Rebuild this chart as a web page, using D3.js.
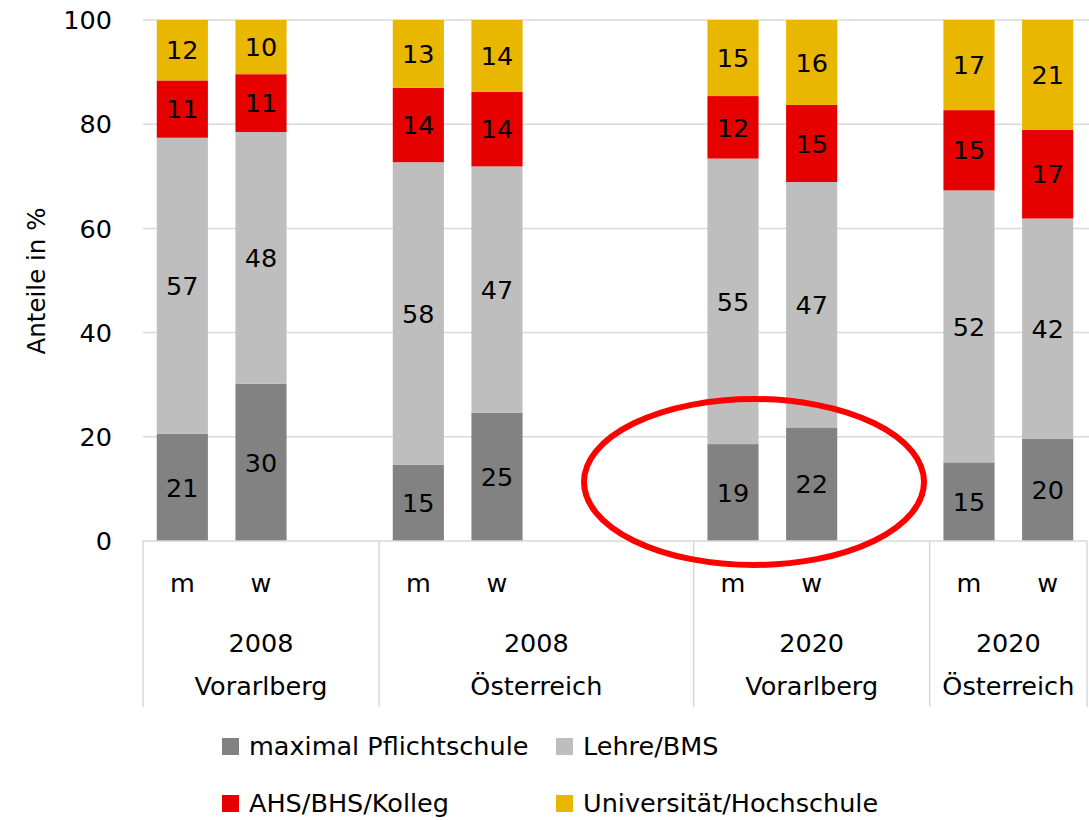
<!DOCTYPE html>
<html>
<head>
<meta charset="utf-8">
<script src="https://cdn.jsdelivr.net/npm/d3@7"></script>
<style>
  body { margin: 0; background: #fff; }
  text { font-family: "DejaVu Sans", sans-serif; fill: #000; }
</style>
</head>
<body>
<div id="chart"></div>
<script>
// slots on the x axis, empty strings are the gaps Excel left between groups
const slots = ["m", "w", "", "m", "w", "", "", "m", "w", "", "m", "w"];
const groups = [
  { year: "2008", region: "Vorarlberg", from: 0, to: 2 },
  { year: "2008", region: "Österreich", from: 3, to: 6 },
  { year: "2020", region: "Vorarlberg", from: 7, to: 9 },
  { year: "2020", region: "Österreich", from: 10, to: 11 }
];
const barSlots = [0, 1, 3, 4, 7, 8, 10, 11];

const seriesNames = ["maximal Pflichtschule", "Lehre/BMS", "AHS/BHS/Kolleg", "Universität/Hochschule"];
const pflicht = [20.6, 30.2, 14.6, 24.6, 18.6, 21.8, 15.1, 19.6];
const lehre   = [56.8, 48.3, 58.1, 47.3, 54.8, 47.1, 52.2, 42.3];
const ahs     = [11.0, 11.1, 14.3, 14.3, 12.0, 14.8, 15.4, 17.0];
const uni     = [11.6, 10.4, 13.0, 13.8, 14.6, 16.3, 17.3, 21.1];
const yTicks = [0, 20, 40, 60, 80, 100];

const colors = ["#828282", "#bebebe", "#e60000", "#e9b600"];

const width = 1089, height = 820;
const margin = { top: 20, left: 143, right: 2, bottom: 279 };
const fs = 25.5;

const svg = d3.select("#chart").append("svg")
  .attr("width", width)
  .attr("height", height);

const x = d3.scaleBand()
  .domain(d3.range(slots.length))
  .range([margin.left, width - margin.right])
  .paddingInner(0.35)
  .paddingOuter(0.175);

const y = d3.scaleLinear()
  .domain([0, 100])
  .range([height - margin.bottom, margin.top]);

// gridlines
svg.append("g")
  .selectAll("line")
  .data(yTicks.filter(d => d > 0))
  .enter().append("line")
  .attr("x1", margin.left)
  .attr("x2", width)
  .attr("y1", d => y(d))
  .attr("y2", d => y(d))
  .attr("stroke", "#d9d9d9")
  .attr("stroke-width", 1.5);

// y tick labels
svg.append("g")
  .selectAll("text")
  .data(yTicks)
  .enter().append("text")
  .attr("x", 112)
  .attr("y", d => y(d))
  .attr("dy", "0.36em")
  .attr("text-anchor", "end")
  .attr("font-size", fs)
  .text(d => d);

svg.append("text")
  .attr("transform", "translate(45,281) rotate(-90)")
  .attr("text-anchor", "middle")
  .attr("font-size", 24.5)
  .text("Anteile in %");

// stacked bars
const rows = barSlots.map((s, i) => ({
  slot: s,
  values: [pflicht[i], lehre[i], ahs[i], uni[i]]
}));

const stackData = rows.map(r => {
  let acc = 0;
  return r.values.map((v, k) => {
    const seg = { slot: r.slot, k: k, v: v, y0: acc, y1: acc + v };
    acc += v;
    return seg;
  });
}).flat();

const seg = svg.append("g")
  .selectAll("g")
  .data(stackData)
  .enter().append("g");

seg.append("rect")
  .attr("x", d => x(d.slot))
  .attr("width", x.bandwidth())
  .attr("y", d => y(d.y1))
  .attr("height", d => y(d.y0) - y(d.y1))
  .attr("fill", d => colors[d.k]);

seg.append("text")
  .attr("x", d => x(d.slot) + x.bandwidth() / 2)
  .attr("y", d => y((d.y0 + d.y1) / 2))
  .attr("dy", "0.36em")
  .attr("text-anchor", "middle")
  .attr("font-size", fs)
  .text(d => Math.round(d.v));

// x axis baseline
const y0 = y(0);
svg.append("line")
  .attr("x1", margin.left)
  .attr("x2", width - margin.right)
  .attr("y1", y0)
  .attr("y2", y0)
  .attr("stroke", "#d9d9d9")
  .attr("stroke-width", 1.5);

const step = x.step();
const slotLeft = i => margin.left + i * step;

// group separators
const seps = groups.map(g => g.from).concat([slots.length]);
svg.append("g")
  .selectAll("line")
  .data(seps)
  .enter().append("line")
  .attr("x1", d => slotLeft(d))
  .attr("x2", d => slotLeft(d))
  .attr("y1", y0)
  .attr("y2", 707)
  .attr("stroke", "#d9d9d9")
  .attr("stroke-width", 1.5);

// m / w labels
svg.append("g")
  .selectAll("text")
  .data(barSlots)
  .enter().append("text")
  .attr("x", d => x(d) + x.bandwidth() / 2)
  .attr("y", 583)
  .attr("dy", "0.36em")
  .attr("text-anchor", "middle")
  .attr("font-size", fs)
  .text(d => slots[d]);

const gl = svg.append("g")
  .selectAll("g")
  .data(groups)
  .enter().append("g");

gl.append("text")
  .attr("x", d => (slotLeft(d.from) + slotLeft(d.to + 1)) / 2)
  .attr("y", 643)
  .attr("dy", "0.36em")
  .attr("text-anchor", "middle")
  .attr("font-size", fs)
  .text(d => d.year);

gl.append("text")
  .attr("x", d => (slotLeft(d.from) + slotLeft(d.to + 1)) / 2)
  .attr("y", 686)
  .attr("dy", "0.36em")
  .attr("text-anchor", "middle")
  .attr("font-size", fs)
  .text(d => d.region);

// legend
const legendPos = [[222, 746], [556, 746], [222, 803], [556, 803]];
const lg = svg.append("g")
  .selectAll("g")
  .data(seriesNames)
  .enter().append("g")
  .attr("transform", (d, i) => "translate(" + legendPos[i][0] + "," + legendPos[i][1] + ")");

lg.append("rect")
  .attr("x", 0)
  .attr("y", -8)
  .attr("width", 17)
  .attr("height", 17)
  .attr("fill", (d, i) => colors[i]);

lg.append("text")
  .attr("x", 27)
  .attr("y", 0)
  .attr("dy", "0.36em")
  .attr("font-size", 25.5)
  .text(d => d);

// red highlight ellipse around 2020 Vorarlberg
svg.append("ellipse")
  .attr("cx", 754)
  .attr("cy", 482)
  .attr("rx", 170)
  .attr("ry", 83)
  .attr("fill", "none")
  .attr("stroke", "#ff0000")
  .attr("stroke-width", 6);
</script>
</body>
</html>
